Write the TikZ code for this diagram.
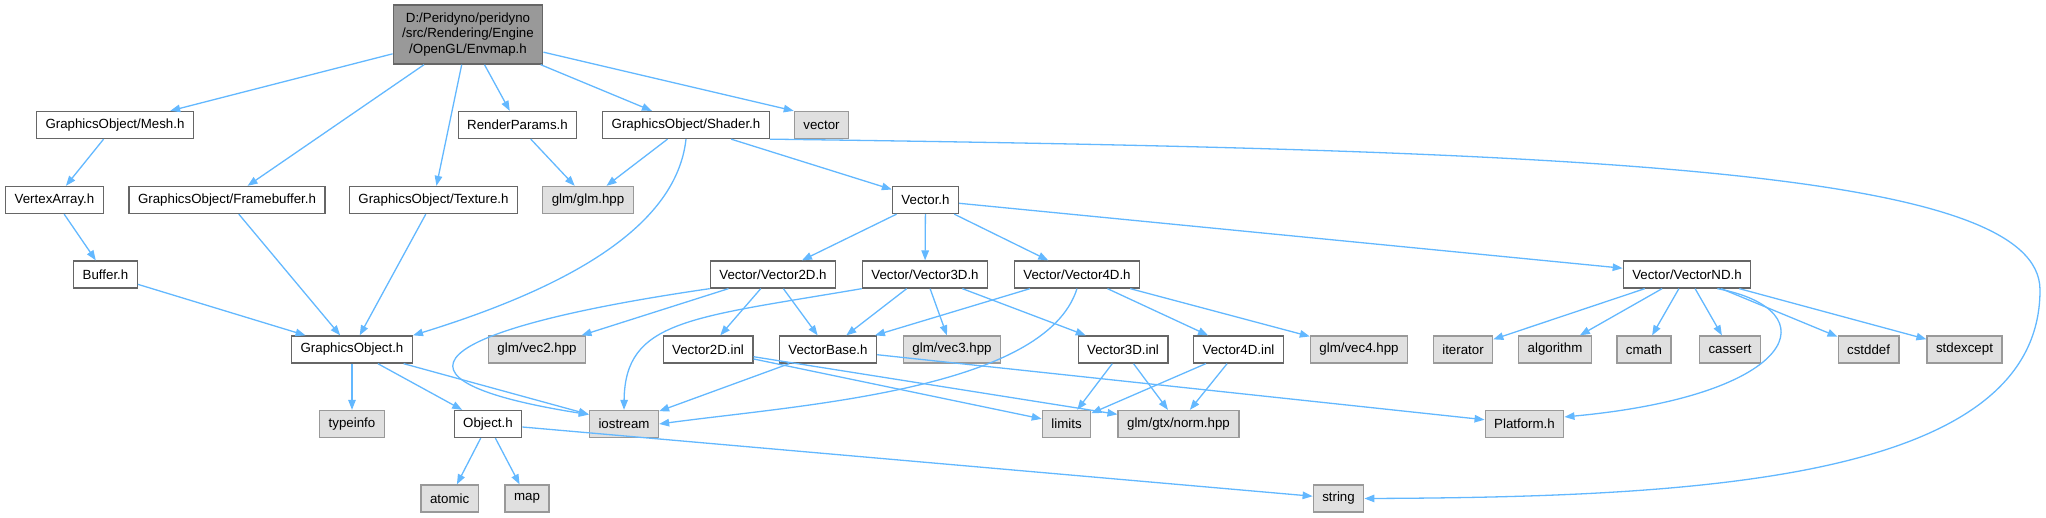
\documentclass[tikz,border=0pt]{standalone}
\usepackage{fontspec}
\setmainfont{Liberation Sans}
\usetikzlibrary{arrows.meta}
\definecolor{edgeblue}{HTML}{63B8FF}
\definecolor{rootfill}{HTML}{999999}
\definecolor{rootdraw}{HTML}{666666}
\definecolor{filedraw}{HTML}{666666}
\definecolor{sysfill}{HTML}{E0E0E0}
\definecolor{sysdraw}{HTML}{999999}
\tikzset{
  userfile/.style={
    draw=filedraw,
    fill=white,
    line width=1.3pt,
    inner xsep=9pt,
    inner ysep=0pt,
    minimum height=27pt,
    font=\fontsize{13.3}{15.5}\selectfont,
  },
  rootfile/.style={
    userfile,
    draw=rootdraw,
    fill=rootfill,
    align=center,
    minimum height=59pt,
  },
  sysfile/.style={
    userfile,
    draw=sysdraw,
    fill=sysfill,
  },
  incl/.style={
    -{Triangle[length=10pt,width=7.5pt]},
    draw=edgeblue,
    line width=1.3pt,
  },
}

\begin{document}
\begin{tikzpicture}[x=1pt,y=-1pt]
  \useasboundingbox (0,0) rectangle (2046,517);

  \node[rootfile] (envmap) at (468,34.5) {D:/Peridyno/peridyno\\/src/Rendering/Engine\\/OpenGL/Envmap.h};

  \node[userfile] (mesh)   at (115,125)   {GraphicsObject/Mesh.h};
  \node[userfile] (params) at (517.5,125) {RenderParams.h};
  \node[userfile] (shader) at (686,125)   {GraphicsObject/Shader.h};
  \node[sysfile]  (vector) at (821.5,125) {vector};

  \node[userfile] (varray)  at (54.5,200)  {VertexArray.h};
  \node[userfile] (fbuffer) at (227,200)   {GraphicsObject/Framebuffer.h};
  \node[userfile] (texture) at (433.5,200) {GraphicsObject/Texture.h};
  \node[sysfile]  (glm)     at (588,200)   {glm/glm.hpp};
  \node[userfile] (vech)    at (925.5,200) {Vector.h};

  \node[userfile] (buffer) at (105.5,274.5) {Buffer.h};
  \node[userfile] (vtwo)   at (773,274.5)   {Vector/Vector2D.h};
  \node[userfile] (vthree) at (925,274.5)   {Vector/Vector3D.h};
  \node[userfile] (vfour)  at (1077,274.5)  {Vector/Vector4D.h};
  \node[userfile] (vnd)    at (1687,274.5)  {Vector/VectorND.h};

  \node[userfile] (gobj)      at (352,349.5)    {GraphicsObject.h};
  \node[sysfile]  (vec2hpp)   at (537,349.5)    {glm/vec2.hpp};
  \node[userfile] (vtwoinl)   at (708,349.5)    {Vector2D.inl};
  \node[userfile] (vbase)     at (828,349.5)    {VectorBase.h};
  \node[sysfile]  (vec3hpp)   at (952,349.5)    {glm/vec3.hpp};
  \node[userfile] (vthreeinl) at (1123,349.5)   {Vector3D.inl};
  \node[userfile] (vfourinl)  at (1238.5,349.5) {Vector4D.inl};
  \node[sysfile]  (vec4hpp)   at (1359,349.5)   {glm/vec4.hpp};
  \node[sysfile]  (iterator)  at (1463,349.5)   {iterator};
  \node[sysfile]  (algorithm) at (1555,349.5)   {algorithm};
  \node[sysfile]  (cmath)     at (1644,349.5)   {cmath};
  \node[sysfile]  (cassert)   at (1730,349.5)   {cassert};
  \node[sysfile]  (cstddef)   at (1868.6,349.5) {cstddef};
  \node[sysfile]  (stdexcept) at (1964.5,349.5) {stdexcept};

  \node[sysfile]  (typeinfo) at (352,424)    {typeinfo};
  \node[userfile] (object)   at (488,424)    {Object.h};
  \node[sysfile]  (iostream) at (624,424)    {iostream};
  \node[sysfile]  (limits)   at (1066.5,424) {limits};
  \node[sysfile]  (norm)     at (1178.5,424) {glm/gtx/norm.hpp};
  \node[sysfile]  (platform) at (1524.5,424) {Platform.h};

  \node[sysfile] (atomic) at (449.6,498.5)  {atomic};
  \node[sysfile] (map)    at (527,498.5)    {map};
  \node[sysfile] (string) at (1338.5,498.5) {string};

  \coordinate (farright) at (2040,290);

  \foreach \dst in {mesh,fbuffer,texture,params,shader}
    \draw[incl] (envmap) -- (\dst);
  \draw[incl] (envmap) -- (vector.north west);

  \draw[incl] (mesh) -- (varray);
  \draw[incl] (varray) -- (buffer);
  \foreach \src in {buffer,fbuffer,texture}
    \draw[incl] (\src) -- (gobj);
  \draw[incl] (shader.south) .. controls (676,230) and (560,290) .. (gobj.north east);
  \draw[incl] (shader) -- (glm);
  \draw[incl] (params) -- (glm);
  \draw[incl] (shader) -- (vech);
  \draw[incl] (shader.south east) .. controls (1600,150) and (2040,170) .. (farright)
    .. controls (2040,480) and (1700,497) .. (string.east);

  \foreach \dst in {vtwo,vthree,vfour,vnd}
    \draw[incl] (vech) -- (\dst);

  \foreach \dst in {typeinfo,object,iostream}
    \draw[incl] (gobj) -- (\dst);
  \draw[incl] (object) -- (atomic);
  \draw[incl] (object) -- (map);
  \draw[incl] (object) -- (string);

  \foreach \dst in {vec2hpp,vtwoinl,vbase}
    \draw[incl] (vtwo) -- (\dst);
  \draw[incl] (vtwo.south west) .. controls (425,330) and (370,380) .. (iostream.165);

  \foreach \dst in {vbase,vec3hpp,vthreeinl}
    \draw[incl] (vthree) -- (\dst);
  \draw[incl] (vthree.south west) .. controls (690,318) and (625,320) .. (iostream.north);

  \foreach \dst in {vbase,vfourinl,vec4hpp}
    \draw[incl] (vfour) -- (\dst);
  \draw[incl] (vfour.south) .. controls (1045,390) and (800,405) .. (iostream.east);

  \draw[incl] (vbase) -- (iostream);
  \draw[incl] (vbase) -- (platform);

  \foreach \src in {vtwoinl,vthreeinl,vfourinl} {
    \draw[incl] (\src) -- (limits);
    \draw[incl] (\src) -- (norm);
  }

  \foreach \dst in {iterator,algorithm,cmath,cassert,cstddef,stdexcept}
    \draw[incl] (vnd) -- (\dst);
  \draw[incl] (vnd.-25) .. controls (1830,310) and (1800,395) .. (platform.10);
\end{tikzpicture}
\end{document}
